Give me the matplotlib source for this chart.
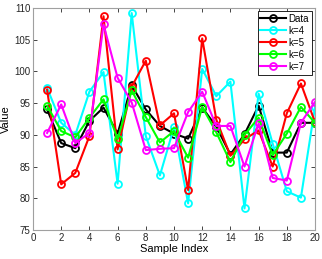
import numpy as np
import matplotlib.pyplot as plt

plt.rcParams['font.family'] = ['Liberation Sans', 'DejaVu Sans']

idx = np.arange(1, 21)

data = [94.0, 88.7, 87.9, 92.2, 94.3, 90.2, 97.8, 94.0, 91.4, 90.2,
        89.4, 94.3, 91.3, 86.9, 90.1, 94.6, 87.2, 87.2, 91.9, 91.9]
k4 = [97.4, 91.9, 90.0, 96.8, 99.9, 82.3, 109.2, 89.8, 83.6, 91.2,
      79.2, 100.4, 96.1, 98.4, 78.4, 96.5, 88.6, 81.1, 80.1, 94.4]
k5 = [97.1, 82.2, 84.0, 89.8, 108.7, 87.7, 97.6, 101.7, 91.5, 93.4,
      81.3, 105.2, 92.4, 86.7, 89.3, 90.7, 85.0, 93.4, 98.1, 92.0]
k6 = [94.6, 90.6, 89.6, 92.7, 95.6, 89.3, 97.0, 92.8, 88.8, 90.6,
      86.4, 94.4, 90.4, 85.7, 90.0, 92.7, 86.8, 90.2, 94.4, 91.9]
k7 = [90.3, 94.8, 88.7, 90.3, 107.4, 99.0, 95.1, 87.6, 87.8, 87.9,
      93.6, 96.8, 91.4, 91.4, 85.0, 91.8, 83.2, 82.8, 91.9, 95.2]

series = [("Data", data, "k"), ("k=4", k4, "#00FFFF"), ("k=5", k5, "#FF0000"),
          ("k=6", k6, "#00FF00"), ("k=7", k7, "#FF00FF")]

fig = plt.figure(figsize=(3.22, 2.59), dpi=100)
ax = fig.add_axes([33/322, 29/259, 282/322, 222/259])

for name, vals, c in series:
    ax.plot(idx, vals, '-o', color=c, lw=1.5, ms=5, mfc='none', mew=1.3, label=name)

ax.set_xlim(0, 20)
ax.set_ylim(75, 110)
ax.set_xticks(np.arange(0, 21, 2))
ax.set_yticks(np.arange(75, 111, 5))
ax.tick_params(direction='in', length=3, width=0.6, labelsize=7, colors='#262626',
               top=True, right=True, pad=2)
for s in ax.spines.values():
    s.set_color('#a0a0a0')
    s.set_linewidth(0.8)
ax.set_xlabel("Sample Index", fontsize=8, labelpad=1)
ax.set_ylabel("Value", fontsize=8, labelpad=2)

leg = ax.legend(loc='upper right', fontsize=7, frameon=True, fancybox=False,
                edgecolor='k', framealpha=1, borderaxespad=0.3, handlelength=2.6,
                labelspacing=0.2, borderpad=0.3, handletextpad=0.3)
leg.get_frame().set_linewidth(0.6)

fig.savefig('out.png', dpi=100)
